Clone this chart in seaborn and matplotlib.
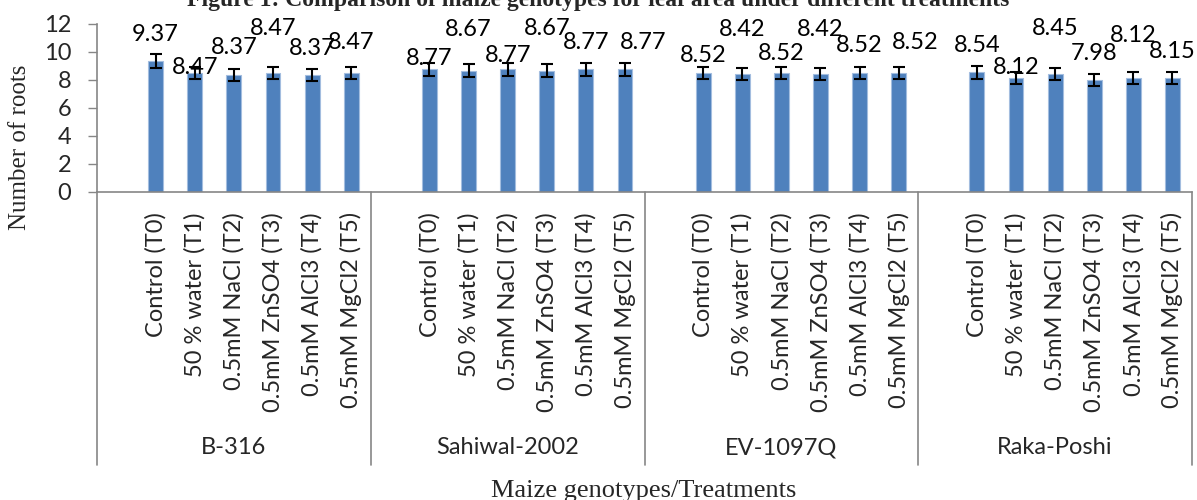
import matplotlib
matplotlib.use("Agg")
import matplotlib.pyplot as plt
import matplotlib.transforms as mtransforms
import seaborn as sns
import pandas as pd

# ---- data ----
genotypes = ["B-316", "Sahiwal-2002", "EV-1097Q", "Raka-Poshi"]
treatments = ["Control (T0)", "50 % water (T1)", "0.5mM NaCl (T2)",
              "0.5mM ZnSO4 (T3)", "0.5mM AlCl3 (T4)", "0.5mM MgCl2 (T5)"]
b316 = [9.37, 8.47, 8.37, 8.47, 8.37, 8.47]
sahiwal = [8.77, 8.67, 8.77, 8.67, 8.77, 8.77]
ev1097q = [8.52, 8.42, 8.52, 8.42, 8.52, 8.52]
rakaposhi = [8.54, 8.12, 8.45, 7.98, 8.12, 8.15]
err_b316 = [0.48, 0.43, 0.43, 0.43, 0.43, 0.43]
err_sahiwal = [0.46, 0.46, 0.46, 0.45, 0.45, 0.45]
err_ev = [0.44, 0.43, 0.44, 0.43, 0.44, 0.44]
err_raka = [0.44, 0.43, 0.43, 0.43, 0.43, 0.43]

# label placement (pixels from bar top) - styling only
label_offsets_px = [
    [26, 6, 27, 45, 26, 31],
    [11, 41, 14, 42, 27, 27],
    [17, 45, 19, 45, 27, 30],
    [27, 11, 45, 27, 43, 26],
]
label_dx_px = [
    [0, 0, 0, 0, 0, 0],
    [0, 0, 0, 0, 0, 18],
    [0, 0, 0, 0, 0, 16],
    [0, 0, 0, 0, 0, 0],
]

values = [b316, sahiwal, ev1097q, rakaposhi]
errors = [err_b316, err_sahiwal, err_ev, err_raka]

rows = []
order = []
for g, vals, errs in zip(genotypes, values, errors):
    order.append(f"{g}|")          # blank slot before each group
    for t, v, e in zip(treatments, vals, errs):
        key = f"{g}|{t}"
        order.append(key)
        rows.append({"key": key, "genotype": g, "treatment": t,
                     "value": v, "err": e})
df = pd.DataFrame(rows)

# ---- style ----
sns.set_theme(style="white")
plt.rcParams["font.family"] = ["Lato", "DejaVu Sans"]
SANS = 17
GREY = "#868686"

fig = plt.figure(figsize=(11.97, 5.0), dpi=100)
W, H = 1197, 500
ax_left, ax_right, ax_top, ax_bot = 97, 1192, 24, 192
ax = fig.add_axes([ax_left / W, 1 - ax_bot / H,
                   (ax_right - ax_left) / W, (ax_bot - ax_top) / H])

sns.barplot(data=df, x="key", y="value", order=order, color="#4F81BD",
            width=0.38, saturation=1, errorbar=None, ax=ax,
            edgecolor="#A3BDDF", linewidth=0.8)

ax.set_xlim(-0.5, len(order) - 0.5)
ax.set_ylim(0, 12)
ax.set_yticks(range(0, 13, 2))
ax.tick_params(axis="y", direction="out", length=6.5, width=1, color=GREY,
               pad=12, labelsize=SANS, left=True)
ax.tick_params(axis="x", length=0, pad=14.5)
ax.set_xticks(range(len(order)))
ax.set_xticklabels([k.split("|")[1] for k in order], rotation=90,
                   fontsize=SANS, va="top", ha="center")
ax.set_xlabel("")
ax.set_ylabel("")
for s in ["top", "right"]:
    ax.spines[s].set_visible(False)
for s in ["left", "bottom"]:
    ax.spines[s].set_color(GREY)
    ax.spines[s].set_linewidth(1.2)

# error bars and labels
xs = [order.index(k) for k in df["key"]]
ax.errorbar(xs, df["value"], yerr=df["err"], fmt="none", ecolor="black",
            elinewidth=1.5, capsize=4.5, capthick=1.5, zorder=5)

offsets = [o for grp in label_offsets_px for o in grp]
dxs = [d for grp in label_dx_px for d in grp]
for x, v, off, dx in zip(xs, df["value"], offsets, dxs):
    ax.annotate(f"{v:.2f}", (x, v), xytext=(dx, off), textcoords="offset pixels",
                ha="center", va="center", fontsize=SANS, color="black",
                zorder=6, annotation_clip=False)

# group separators and labels
trans = mtransforms.blended_transform_factory(ax.transData, ax.transAxes)
sep_bottom = (ax_bot - 465) / (ax_bot - ax_top)
lab_y = (ax_bot - 448) / (ax_bot - ax_top)
n = len(treatments) + 1
for i, g in enumerate(genotypes):
    start = i * n - 0.5
    ax.plot([start, start], [0, sep_bottom], transform=trans, color=GREY,
            lw=1.2, clip_on=False)
    ax.text(start + n / 2, lab_y, g, transform=trans, ha="center",
            va="center", fontsize=SANS)
end = len(genotypes) * n - 0.5
ax.plot([end, end], [0, sep_bottom], transform=trans, color=GREY,
        lw=1.2, clip_on=False)

# axis titles and (cropped) figure title
serif = ["Liberation Serif", "DejaVu Serif"]
fig.text(20 / W, 1 - 147 / H, "Number of roots", rotation=90, ha="center",
         va="center", fontsize=18, family=serif)
fig.text(644 / W, 1 - 497 / H, "Maize genotypes/Treatments", ha="center",
         va="baseline", fontsize=19, family=serif)
fig.text(598 / W, 1 - 6 / H,
         "Figure 1: Comparison of maize genotypes for leaf area under different treatments",
         ha="center", va="baseline", fontsize=17, fontweight="bold", family=serif)

fig.savefig("out.png", dpi=100)
